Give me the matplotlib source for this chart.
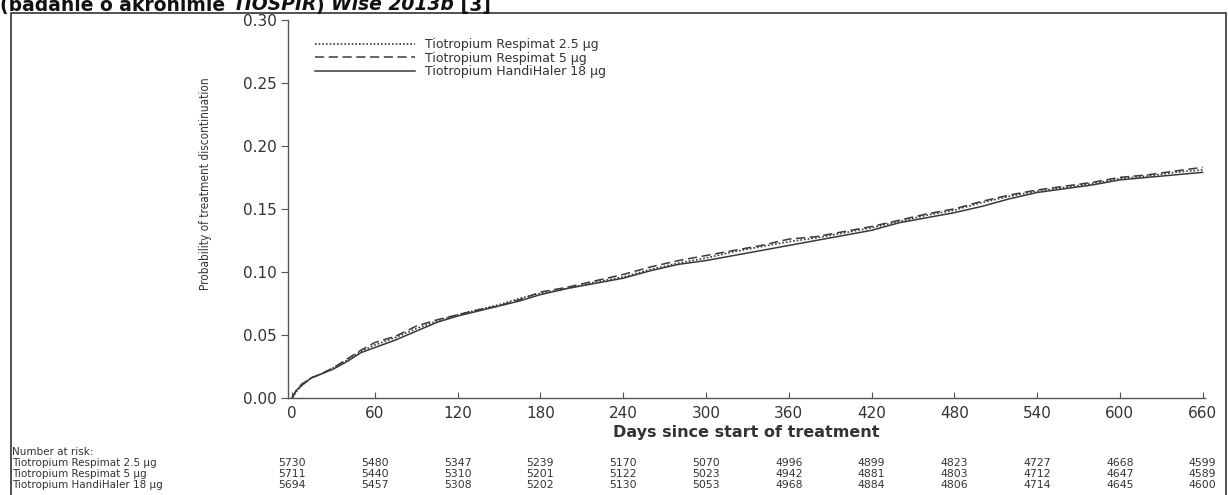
#!/usr/bin/env python3
import matplotlib
matplotlib.use("Agg")
import matplotlib.pyplot as plt
from matplotlib.patches import Rectangle
from matplotlib.transforms import blended_transform_factory

# === CURVE DATA ===
DAYS = [0, 3, 7, 14, 21, 30, 40, 50, 60, 75, 90, 105, 120, 135, 150, 165, 180,
        200, 220, 240, 260, 280, 300, 320, 340, 360, 380, 400, 420, 440, 460,
        480, 500, 520, 540, 560, 580, 600, 620, 640, 660]

RESPIMAT_25 = [0.000, 0.005, 0.010, 0.016, 0.019, 0.024, 0.030, 0.037, 0.042,
               0.048, 0.055, 0.061, 0.066, 0.070, 0.074, 0.079, 0.083, 0.087,
               0.092, 0.096, 0.102, 0.107, 0.111, 0.116, 0.120, 0.124, 0.127,
               0.131, 0.135, 0.140, 0.145, 0.149, 0.155, 0.160, 0.164, 0.167,
               0.170, 0.174, 0.176, 0.179, 0.181]

RESPIMAT_5 = [0.000, 0.006, 0.011, 0.016, 0.019, 0.024, 0.031, 0.038, 0.044,
              0.049, 0.057, 0.062, 0.066, 0.070, 0.073, 0.078, 0.084, 0.088,
              0.093, 0.098, 0.104, 0.109, 0.113, 0.117, 0.121, 0.126, 0.128,
              0.132, 0.136, 0.141, 0.146, 0.150, 0.156, 0.161, 0.165, 0.168,
              0.171, 0.175, 0.177, 0.180, 0.183]

HANDIHALER_18 = [0.000, 0.006, 0.010, 0.016, 0.019, 0.023, 0.029, 0.036, 0.040,
                 0.046, 0.053, 0.060, 0.065, 0.069, 0.073, 0.077, 0.082, 0.087,
                 0.091, 0.095, 0.101, 0.106, 0.109, 0.113, 0.117, 0.121, 0.125,
                 0.129, 0.133, 0.139, 0.143, 0.147, 0.152, 0.158, 0.163, 0.166,
                 0.169, 0.173, 0.175, 0.177, 0.179]

SERIES_LABELS = ["Tiotropium Respimat 2.5 \u00b5g",
                 "Tiotropium Respimat 5 \u00b5g",
                 "Tiotropium HandiHaler 18 \u00b5g"]

# === NUMBER AT RISK TABLE ===
RISK_DAYS = [0, 60, 120, 180, 240, 300, 360, 420, 480, 540, 600, 660]
RISK_25 = [5730, 5480, 5347, 5239, 5170, 5070, 4996, 4899, 4823, 4727, 4668, 4599]
RISK_5 = [5711, 5440, 5310, 5201, 5122, 5023, 4942, 4881, 4803, 4712, 4647, 4589]
RISK_18 = [5694, 5457, 5308, 5202, 5130, 5053, 4968, 4884, 4806, 4714, 4645, 4600]

TXT = "#333333"
LINE = "#3a3a3a"

fig = plt.figure(figsize=(12.29, 4.95), dpi=100)
ax = fig.add_axes([0.2343, 0.196, 0.7465, 0.764])

ax.plot(DAYS, RESPIMAT_25, color=LINE, lw=1.2, ls=(0, (1, 1.2)), label=SERIES_LABELS[0])
ax.plot(DAYS, RESPIMAT_5, color=LINE, lw=1.1, ls=(0, (6, 3)), label=SERIES_LABELS[1])
ax.plot(DAYS, HANDIHALER_18, color=LINE, lw=1.1, ls="-", label=SERIES_LABELS[2])

ax.set_xlim(-3, 662)
ax.set_ylim(0, 0.30)
ax.set_xticks(RISK_DAYS)
ax.set_yticks([0.00, 0.05, 0.10, 0.15, 0.20, 0.25, 0.30])
ax.set_yticklabels(["0.00", "0.05", "0.10", "0.15", "0.20", "0.25", "0.30"])
for s in ["top", "right"]:
    ax.spines[s].set_visible(False)
for s in ["left", "bottom"]:
    ax.spines[s].set_color("#555555")
    ax.spines[s].set_linewidth(1.0)
ax.tick_params(axis="y", direction="out", length=5, colors="#555555",
               labelcolor=TXT, labelsize=11, pad=3)
ax.tick_params(axis="x", direction="in", length=4, colors="#555555",
               labelcolor=TXT, labelsize=11, pad=6)

ax.set_xlabel("Days since start of treatment", fontsize=11.5, fontweight="bold",
              color=TXT, labelpad=3)
fig.text(205 / 1229, 1 - 184 / 495, "Probability of treatment discontinuation",
         rotation=90, ha="center", va="center", fontsize=8.5, color=TXT,
         family="DejaVu Sans", fontstretch="condensed")

leg = ax.legend(loc="upper left", bbox_to_anchor=(0.02, 0.975), frameon=False,
                fontsize=9, handlelength=8.0, labelspacing=0.05,
                handletextpad=0.8, borderpad=0.2)
for t in leg.get_texts():
    t.set_color(TXT)

# === NUMBER AT RISK ===
tr = blended_transform_factory(ax.transData, fig.transFigure)
fig.text(12 / 1229, 1 - 452 / 495, "Number at risk:", fontsize=7.5, color=TXT,
         va="center", ha="left")
rows = [RISK_25, RISK_5, RISK_18]
row_y = [1 - 463 / 495, 1 - 474 / 495, 1 - 485 / 495]
for lab, vals, y in zip(SERIES_LABELS, rows, row_y):
    fig.text(12 / 1229, y, lab, fontsize=7.5, color=TXT, va="center", ha="left")
    for d, v in zip(RISK_DAYS, vals):
        fig.text(d, y, str(v), transform=tr, fontsize=7.8, color=TXT,
                 va="center", ha="center")

# === FRAME AROUND THE FIGURE ===
fig.patches.append(Rectangle((11 / 1229, -0.01), 1215 / 1229, 0.01 + 1 - 13 / 495,
                             transform=fig.transFigure, fill=False,
                             edgecolor="#333333", lw=1.2))

# === CLIPPED HEADING AT THE TOP ===
renderer = fig.canvas.get_renderer()
parts = [("(badanie o akronimie ", "normal"), ("TIOSPIR", "italic"),
         (") ", "normal"), ("Wise 2013b", "italic"), (" [3]", "normal")]
x = 0.0
for s, st in parts:
    t = fig.text(x, 1 - 10.5 / 495, s, fontsize=13.5, fontweight="bold",
                 style=st, color="#111111", va="baseline", ha="left")
    bb = t.get_window_extent(renderer=renderer)
    x += bb.width / fig.bbox.width

fig.savefig("out.png", dpi=100)
